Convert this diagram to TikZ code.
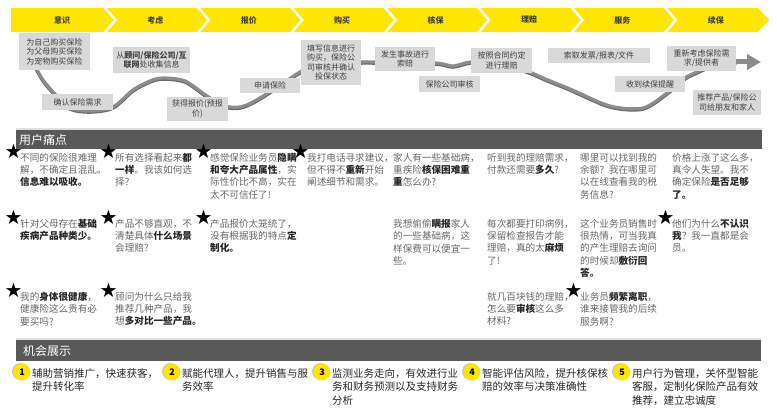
\documentclass[tikz,border=0pt]{standalone}
\usepackage{fontspec}
\setmainfont{Noto Sans CJK SC}
\newfontfamily\starfont{DejaVu Sans}
\usetikzlibrary{arrows.meta,positioning,shadows}
\definecolor{stepyellow}{HTML}{FFE600}
\definecolor{boxgrey}{HTML}{D9D9D9}
\definecolor{boxtext}{HTML}{404040}
\definecolor{bargrey}{HTML}{595959}
\definecolor{trailgrey}{HTML}{8C8C8C}
\definecolor{trailshade}{HTML}{6A6A6A}
\definecolor{paingrey}{HTML}{666666}
\definecolor{paindark}{HTML}{262626}
\newcommand{\keyw}[1]{\textcolor{paindark}{\textbf{#1}}}

\begin{document}
\begin{tikzpicture}[x=1pt,y=-1pt,
  stage/.style={font=\bfseries\fontsize{8}{8}\selectfont,text=boxtext,inner sep=0pt},
  touch/.style={fill=boxgrey,text=boxtext,inner sep=0pt,align=center,font=\fontsize{8}{9.5}\selectfont},
  trail/.style={line width=3.2pt,line cap=round,line join=round},
  bar/.style={fill=bargrey,inner sep=0pt,anchor=north west,drop shadow={shadow xshift=0pt,shadow yshift=2pt,opacity=0.25}},
  bartext/.style={text=white,font=\fontsize{12}{12}\selectfont,inner sep=0pt},
  pain/.style={anchor=north west,inner sep=0pt,align=left,text=paingrey,font=\fontsize{9.6}{12.3}\selectfont},
  starmark/.style={font=\starfont\fontsize{20}{20}\selectfont,inner sep=0pt},
  numdot/.style={circle,fill=stepyellow,minimum size=17pt,inner sep=0pt,font=\bfseries\fontsize{9}{9}\selectfont,
    drop shadow={shadow xshift=-1.5pt,shadow yshift=0.5pt,opacity=0.45}},
  chance/.style={anchor=north west,inner sep=0pt,align=left,text=paindark,font=\fontsize{10.5}{13.5}\selectfont}]
\useasboundingbox (0,0) rectangle (777,414);

% stage chevrons
\foreach \t [count=\i from 0] in {意识,考虑,报价,购买,核保,理赔,服务,续保}{
  \pgfmathsetmacro{\lx}{11+93.4*\i}
  \pgfmathsetmacro{\rx}{\lx+93.4}
  \fill[stepyellow] (\lx,8) -- (\rx,8) -- (\rx+11,20) -- (\rx,32) -- (\lx,32) -- cycle;
  \node[stage] (st\i) at (\lx+51,20) {\t};
}
\foreach \i in {1,...,7}{
  \pgfmathsetmacro{\lx}{11+93.4*\i}
  \draw[white,line width=2.5pt] (\lx,7) -- (\lx+11,20) -- (\lx,33);
}

% journey line (behind the touch points)
\foreach \dy/\c in {-1.2/trailshade,0/trailgrey}
  \draw[trail,draw=\c,yshift=\dy pt] plot[smooth,tension=0.5] coordinates {(35,66) (43,80) (55,94) (70,108) (90,111)
    (113,107) (133,90) (150,81) (163,78) (185,81) (207,96) (225,106) (240,107) (253,102) (268,93) (285,82)
    (300,72) (320,64) (361,62) (375,62) (435,63) (453,66) (471,62) (500,63) (532,73) (543,78) (570,89)
    (610,106) (643,108) (667,93) (685,78) (697,72) (715,64) (736,62)};

% touch points
\node[touch,minimum width=71,minimum height=37] (need) at (54.5,51.5) {为自己购买保险\\为父母购买保险\\为宠物购买保险};
\node[touch,minimum width=71,minimum height=16] (confirm) at (77.5,102) {确认保险需求};
\node[touch,minimum width=77,minimum height=26] (gather) at (151.5,60) {从\textbf{顾问/保险公司/互}\\\textbf{联网}处收集信息};
\node[touch,minimum width=61,minimum height=24] (quote) at (197.5,109) {获得报价(预报\\价)};
\node[touch,minimum width=60,minimum height=15] (apply) at (270,85.5) {申请保险};
\node[touch,minimum width=60,minimum height=45] (buy) at (331,62.5) {填写信息进行\\购买，保险公\\司审核并确认\\投保状态};
\node[touch,minimum width=60,minimum height=24] (claim) at (405,59) {发生事故进行\\索赔};
\node[touch,minimum width=61,minimum height=16] (review) at (449.5,84) {保险公司审核};
\node[touch,minimum width=61,minimum height=25] (payout) at (501.5,60.5) {按照合同约定\\进行理赔};
\node[touch,minimum width=102,minimum height=15] (docs) at (599,55.5) {索取发票/报表/文件};
\node[touch,minimum width=69,minimum height=25] (renew) at (701.5,58.5) {重新考虑保险需\\求/提供者};
\node[touch,minimum width=70,minimum height=16] (remind) at (650,84) {收到续保提醒};
\node[touch,minimum width=68,minimum height=25] (refer) at (727,102.5) {推荐产品/保险公\\司给朋友和家人};
\coordinate (trailend) at (761,62);
\draw[draw=trailgrey,line width=5pt,-{Triangle[length=14pt,width=15pt]}] (renew.east |- trailend) -- (trailend);

% pain points
\node[bar,minimum width=746,minimum height=19] (painbar) at (16,130) {};
\node[bartext,right=3pt of painbar.west] (painlbl) {用户痛点};

\node[pain] (p1) at (20,153) {不同的保险很难理\\解，不确定且混乱。\\\keyw{信息难以吸收。}};
\node[pain] (p2) at (115,153) {所有选择看起来\keyw{都}\\\keyw{一样}。我该如何选\\择?};
\node[pain] (p3) at (210,153) {感觉保险业务员\keyw{隐瞒}\\\keyw{和夸大产品属性}，实\\际性价比不高，实在\\太不可信任了!};
\node[pain] (p4) at (307,153) {我打电话寻求建议，\\但不得不\keyw{重新}开始\\阐述细节和需求。};
\node[pain] (p5) at (393,153) {家人有一些基础病，\\重疾险\keyw{核保困难重}\\\keyw{重}怎么办?};
\node[pain] (p6) at (487,153) {听到我的理赔需求，\\付款还需要\keyw{多久}?};
\node[pain] (p7) at (580,153) {哪里可以找到我的\\余额？我在哪里可\\以在线查看我的税\\务信息?};
\node[pain] (p8) at (672,153) {价格上涨了这么多，\\真令人失望。我不\\确定保险\keyw{是否足够}\\\keyw{了。}};

\node[pain] (q1) at (20,219) {针对父母存在\keyw{基础}\\\keyw{疾病产品种类少。}};
\node[pain] (q2) at (115,219) {产品不够直观，不\\清楚具体\keyw{什么场景}\\会理赔?};
\node[pain] (q3) at (210,219) {产品报价太笼统了，\\没有根据我的特点\keyw{定}\\\keyw{制化。}};
\node[pain] (q5) at (393,219) {我想偷偷\keyw{瞒报}家人\\的一些基础病，这\\样保费可以便宜一\\些。};
\node[pain] (q6) at (487,219) {每次都要打印病例，\\保留检查报告才能\\理赔，真的太\keyw{麻烦}\\了!};
\node[pain] (q7) at (580,219) {这个业务员销售时\\很热情，可当我真\\的产生理赔去询问\\的时候却\keyw{敷衍回}\\\keyw{答。}};
\node[pain] (q8) at (672,219) {他们为什么\keyw{不认识}\\\keyw{我}？我一直都是会\\员。};

\node[pain] (r1) at (20,292) {我的\keyw{身体很健康}，\\健康险这么贵有必\\要买吗?};
\node[pain] (r2) at (115,292) {顾问为什么只给我\\推荐几种产品，我\\想\keyw{多对比一些产品。}};
\node[pain] (r6) at (487,292) {就几百块钱的理赔，\\怎么要\keyw{审核}这么多\\材料?};
\node[pain] (r7) at (580,292) {业务员\keyw{频繁离职}，\\谁来接管我的后续\\服务啊?};

% stars on the main complaints
\foreach \p in {p1,p2,p3,p4,q1,q2,q3,q8,r1,r2,r7}
  \node[starmark] (star-\p) at ([xshift=-6.5pt,yshift=1.5pt]\p.north west) {★};

% opportunities
\node[bar,minimum width=745,minimum height=21] (chancebar) at (16,340) {};
\node[bartext,right=7pt of chancebar.west] (chancelbl) {机会展示};

\foreach \n/\x in {1/22,2/172,3/322,4/472,5/622}
  \node[numdot] (n\n) at (\x,372) {\n};
\node[chance] (o1) at ([xshift=10pt,yshift=4pt]n1.center) {辅助营销推广，快速获客，\\提升转化率};
\node[chance] (o2) at ([xshift=10pt,yshift=4pt]n2.center) {赋能代理人，提升销售与服\\务效率};
\node[chance] (o3) at ([xshift=10pt,yshift=4pt]n3.center) {监测业务走向，有效进行业\\务和财务预测以及支持财务\\分析};
\node[chance] (o4) at ([xshift=10pt,yshift=4pt]n4.center) {智能评估风险，提升核保核\\赔的效率与决策准确性};
\node[chance] (o5) at ([xshift=10pt,yshift=4pt]n5.center) {用户行为管理，关怀型智能\\客服，定制化保险产品有效\\推荐，建立忠诚度};
\end{tikzpicture}
\end{document}
